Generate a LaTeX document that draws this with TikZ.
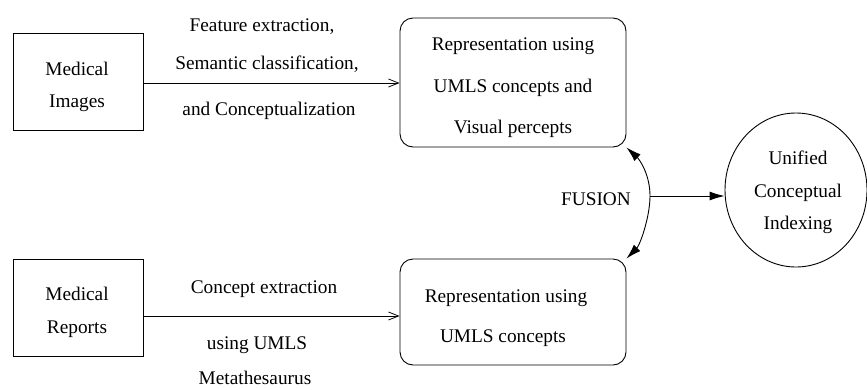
\documentclass[tikz,border=0pt]{standalone}
\usepackage{fontspec}
\setmainfont{Liberation Serif}
\usetikzlibrary{arrows.meta,shapes.geometric}
\begin{document}
\begin{tikzpicture}[x=1pt,y=-1pt,
  every node/.style={font=\fontsize{19.3}{23}\selectfont, inner sep=0pt},
  sqbox/.style={draw, line width=0.9pt, minimum width=130pt, minimum height=97pt},
  rbox/.style={draw, line width=0.9pt, rounded corners=13pt, minimum width=226pt},
  lbl/.style={anchor=base},
  openarr/.style={line width=0.9pt, -{Straight Barb[length=10pt,width=8pt,line width=0.8pt]}},
  fillarr/.style={line width=0.9pt, -{Latex[length=15pt,width=9pt]}}]
\useasboundingbox (0,0) rectangle (867,389);
% boxes
\node[sqbox] (mi) at (78,82) {};
\node[sqbox] (mr) at (78,307.5) {};
\node[rbox, minimum height=129pt] (ri) at (513,82.5) {};
\node[rbox, minimum height=106pt] (rr) at (513,312) {};
\node[draw, line width=0.9pt, ellipse, minimum width=142pt, minimum height=154pt] (ui) at (796,190) {};
% texts
\node[lbl] (t1) at (77,75) {Medical};
\node[lbl] (t2) at (77,107) {Images};
\node[lbl] (t3) at (77,300) {Medical};
\node[lbl] (t4) at (77,333) {Reports};
\node[lbl] (r1) at (513,50) {Representation using};
\node[lbl] (r2) at (513,92) {UMLS concepts and};
\node[lbl] (r3) at (513,133) {Visual percepts};
\node[lbl] (s1) at (506,302) {Representation using};
\node[lbl] (s2) at (503,342) {UMLS concepts};
\node[lbl] (u1) at (798,164) {Unified};
\node[lbl] (u2) at (798,197) {Conceptual};
\node[lbl] (u3) at (798,229) {Indexing};
\node[lbl] (f1) at (262,31) {Feature extraction,};
\node[lbl] (f2) at (267,69) {Semantic classification,};
\node[lbl] (f3) at (269,115) {and Conceptualization};
\node[lbl] (c1) at (264,293) {Concept extraction};
\node[lbl] (c2) at (257,349) {using UMLS};
\node[lbl] (c3) at (255,384) {Metathesaurus};
\node[lbl] (fu) at (596,205) {FUSION};
% connectors
\draw[openarr] (mi.east |- 0,83) -- (ri.west |- 0,83);
\draw[openarr] (mr.east |- 0,316) -- (rr.west |- 0,316);
\coordinate (fm) at (650,196);
\draw[fillarr] (fm) .. controls (650,175) and (640,160) .. (ri.south east);
\draw[fillarr] (fm) .. controls (650,217) and (640,245) .. (rr.north east);
\draw[fillarr] (fm) -- (ui.west |- fm);
\end{tikzpicture}
\end{document}
